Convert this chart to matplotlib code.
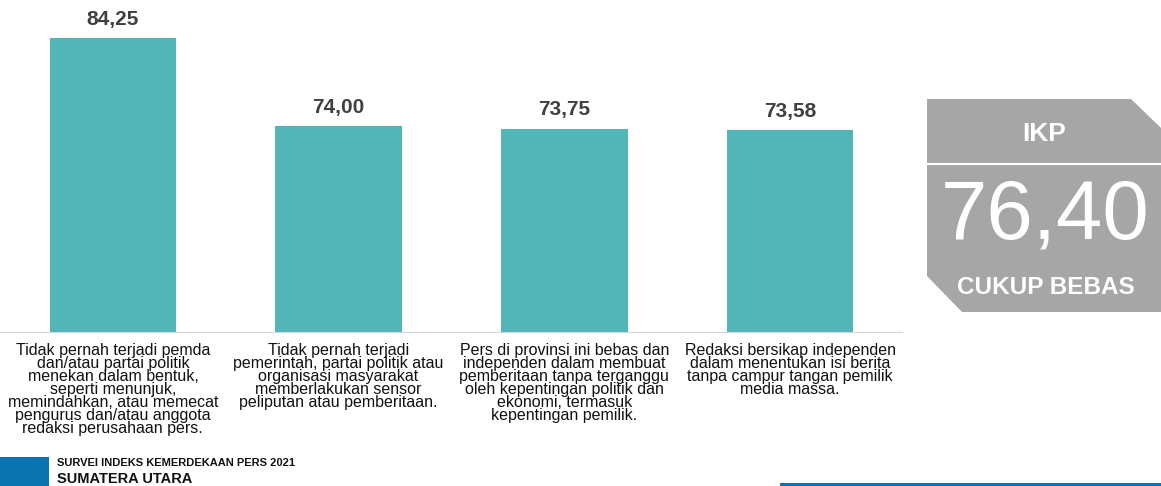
import matplotlib
matplotlib.use("Agg")
import matplotlib.pyplot as plt
from matplotlib.patches import Polygon, Rectangle

plt.rcParams['font.family'] = ['Liberation Sans', 'DejaVu Sans']

# ---- data ----
categories = [
    "Tidak pernah terjadi pemda\ndan/atau partai politik\nmenekan dalam bentuk,\nseperti menunjuk,\nmemindahkan, atau memecat\npengurus dan/atau anggota\nredaksi perusahaan pers.",
    "Tidak pernah terjadi\npemerintah, partai politik atau\norganisasi masyarakat\nmemberlakukan sensor\npeliputan atau pemberitaan.",
    "Pers di provinsi ini bebas dan\nindependen dalam membuat\npemberitaan tanpa terganggu\noleh kepentingan politik dan\nekonomi, termasuk\nkepentingan pemilik.",
    "Redaksi bersikap independen\ndalam menentukan isi berita\ntanpa campur tangan pemilik\nmedia massa.",
]
values = [84.25, 74.00, 73.75, 73.58]
value_labels = ["84,25", "74,00", "73,75", "73,58"]
ikp_value = "76,40"
ikp_title = "IKP"
ikp_status = "CUKUP BEBAS"
footer_line1 = "SURVEI INDEKS KEMERDEKAAN PERS 2021"
footer_line2 = "SUMATERA UTARA"

W, H = 1161, 486
fig = plt.figure(figsize=(W / 100, H / 100), dpi=100)

bar_color = "#52b5b8"
ax = fig.add_axes([0, (H - 333) / H, 903 / W, 333 / H])
x = list(range(len(values)))
ax.bar(x, values, width=0.56, color=bar_color, zorder=2)
ax.set_xlim(-0.5, len(values) - 0.5)
ax.set_ylim(50, 50 + 333 / 8.61)
for s in ax.spines.values():
    s.set_visible(False)
ax.set_xticks([])
ax.set_yticks([])
ax.axhline(50, color="#d4d4d4", lw=1.5, zorder=3)
for xi, v, lab in zip(x, values, value_labels):
    ax.annotate(lab, (xi, v), xytext=(0, 6.5), textcoords="offset points",
                ha="center", va="bottom", fontsize=15, fontweight="bold",
                color="#404040")
for xi, cat in zip(x, categories):
    ax.annotate(cat, (xi, 50), xytext=(0, -7), textcoords="offset points",
                ha="center", va="top", fontsize=11.5, color="#111111",
                linespacing=0.84, annotation_clip=False)

# ---- overlay in pixel coordinates ----
ov = fig.add_axes([0, 0, 1, 1])
ov.set_xlim(0, W)
ov.set_ylim(H, 0)
ov.axis("off")
ov.patch.set_alpha(0)

box = Polygon([(927, 99), (1131, 99), (1161, 128), (1161, 312),
               (962, 312), (927, 276)], closed=True,
              facecolor="#a6a6a6", edgecolor="none")
ov.add_patch(box)
ov.plot([927, 1161], [164, 164], color="white", lw=1.5)
ov.text(1044, 134, ikp_title, ha="center", va="center", fontsize=19,
        fontweight="bold", color="white")
ov.text(1045, 216, ikp_value, ha="center", va="center", fontsize=60,
        color="white")
ov.text(1046, 287, ikp_status, ha="center", va="center", fontsize=17.5,
        fontweight="bold", color="white")

# footer
ov.add_patch(Rectangle((0, 457), 49, 29, facecolor="#0b73b0", edgecolor="none"))
ov.text(57, 463, footer_line1, ha="left", va="center", fontsize=8,
        fontweight="bold", color="#111111")
ov.text(57, 479, footer_line2, ha="left", va="center", fontsize=10.5,
        fontweight="bold", color="#111111")
ov.add_patch(Rectangle((780, 483), W - 780, 3, facecolor="#0b73b0", edgecolor="none"))

fig.savefig("out.png", dpi=100)
